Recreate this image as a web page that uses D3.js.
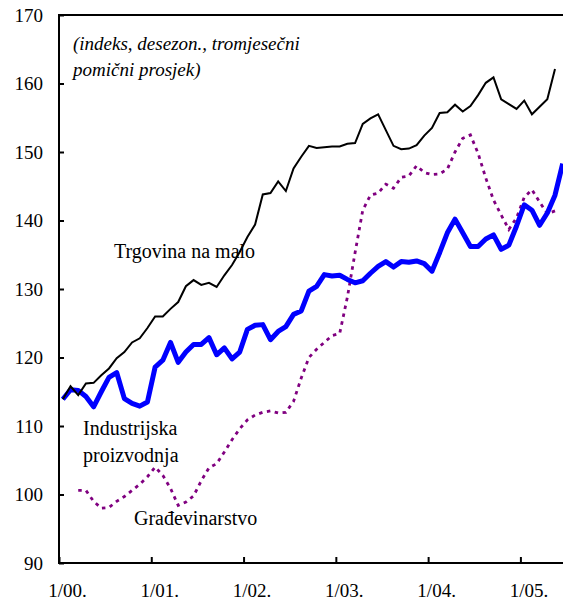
<!DOCTYPE html>
<html>
<head>
<meta charset="utf-8">
<script src="https://cdn.jsdelivr.net/npm/d3@7"></script>
<style>
  body{margin:0;background:#fff;}
  svg{display:block;}
</style>
</head>
<body>
<svg id="chart"></svg>
<script>
// monthly, from 1/2000 on (3-month moving average, seasonally adjusted)
const tickLabels = ["1/00.", "1/01.", "1/02.", "1/03.", "1/04.", "1/05."];
const tickMonths = [0, 12, 24, 36, 48, 60];
const monthCount = 66;

const trgovina = [
  113.9, 115.8, 114.5, 116.2, 116.3, 117.4, 118.4, 119.9, 120.8, 122.2, 122.8, 124.3,
  126.0, 126.0, 127.1, 128.1, 130.4, 131.3, 130.6, 130.9, 130.3, 132.0, 133.5, 135.4,
  137.6, 139.4, 143.8, 144.0, 145.7, 144.3, 147.6, 149.3, 150.9, 150.6, 150.7, 150.8,
  150.8, 151.2, 151.3, 154.1, 154.9, 155.5, 153.2, 150.9, 150.4, 150.5, 151.0, 152.4,
  153.5, 155.7, 155.8, 156.9, 155.9, 156.7, 158.3, 160.1, 160.9, 157.7, 157.0, 156.3,
  157.5, 155.5, 156.6, 157.7, 162.1
];

const industrija = [
  113.9, 115.3, 115.2, 114.3, 112.8, 115.0, 117.1, 117.8, 114.0, 113.3, 112.9, 113.5,
  118.6, 119.6, 122.2, 119.3, 120.8, 121.9, 121.9, 122.9, 120.4, 121.4, 119.8, 120.8,
  124.1, 124.7, 124.8, 122.6, 123.8, 124.5, 126.3, 126.8, 129.7, 130.4, 132.1, 131.9,
  132.0, 131.4, 130.9, 131.2, 132.3, 133.3, 134.0, 133.2, 134.0, 133.9, 134.1, 133.7,
  132.6, 135.3, 138.2, 140.2, 138.2, 136.2, 136.2, 137.3, 137.9, 135.8, 136.4, 139.2,
  142.3, 141.5, 139.3, 141.1, 143.7, 148.3
];

const gradjevinarstvo = [
  null, null, 100.6, 100.6, 99.0, 98.0, 98.1, 99.0, 99.7, 100.6, 101.5, 102.6,
  104.0, 102.8, 100.9, 98.4, 98.9, 99.8, 102.0, 103.9, 104.5, 106.2, 108.0, 109.6,
  110.9, 111.6, 112.0, 112.2, 111.9, 112.0, 113.6, 117.0, 120.0, 121.2, 122.2, 123.2,
  123.5, 128.8, 135.3, 141.5, 143.7, 144.0, 145.3, 144.7, 146.3, 146.5, 148.0, 147.0,
  146.7, 146.8, 147.5, 150.0, 152.0, 152.5, 149.8, 146.2, 143.0, 140.8, 138.7, 140.4,
  143.4, 144.5, 142.7, 141.0, 141.4
];

const serif = 'Liberation Serif';

let w = 563, h = 605;
let svg = d3.select('#chart').attr('width', w).attr('height', h).attr('viewBox', `0 0 ${w} ${h}`);

const plotLeft = 59, plotTop = 15, plotBottom = 563;
const monthWidth = 7.69;

const x = d3.scaleLinear().domain([0, monthCount]).range([plotLeft, plotLeft + monthCount * monthWidth]);
const y = d3.scaleLinear().domain([90, 170]).range([plotBottom, plotTop]);

// frame (right side falls outside the picture)
svg.append('rect')
  .attr('x', x(0)).attr('y', y(170))
  .attr('width', x(monthCount) - x(0)).attr('height', y(90) - y(170))
  .attr('fill', 'none').attr('stroke', '#000').attr('stroke-width', 2);

// axes
const yAxis = svg.append('g')
  .attr('transform', `translate(${plotLeft},0)`)
  .call(d3.axisLeft(y).tickValues(d3.range(90, 171, 10)).tickSize(-5).tickPadding(16));

const xAxis = svg.append('g')
  .attr('transform', `translate(0,${plotBottom})`)
  .call(d3.axisBottom(x).tickValues(tickMonths).tickSize(-6).tickPadding(21)
    .tickFormat((d, i) => tickLabels[i]));

[yAxis, xAxis].forEach(a => {
  a.select('.domain').remove();
  a.selectAll('line').attr('stroke', '#000').attr('stroke-width', 2);
  a.selectAll('text').attr('fill', '#000')
    .style('font-family', serif).style('font-size', '19px');
});
xAxis.selectAll('text').attr('dx', 8);

// lines
function lineFor(values) {
  return d3.line()
    .defined(d => d != null)
    .x((d, i) => x(i + 0.5))
    .y(d => y(d))(values);
}

svg.append('path')
  .attr('d', lineFor(gradjevinarstvo))
  .attr('fill', 'none')
  .attr('stroke', '#800080')
  .attr('stroke-width', 2.8)
  .attr('stroke-dasharray', '3.5,4.5');

svg.append('path')
  .attr('d', lineFor(industrija))
  .attr('fill', 'none')
  .attr('stroke', '#0000ff')
  .attr('stroke-width', 5)
  .attr('stroke-linejoin', 'round');

svg.append('path')
  .attr('d', lineFor(trgovina))
  .attr('fill', 'none')
  .attr('stroke', '#000')
  .attr('stroke-width', 2)
  .attr('stroke-linejoin', 'miter');

// annotations
const notes = [
  {t: '(indeks, desezon., tromjesečni', x: 73, y: 50, italic: true},
  {t: 'pomični prosjek)', x: 73, y: 76, italic: true},
  {t: 'Trgovina na malo', x: 114, y: 258},
  {t: 'Industrijska', x: 83, y: 435},
  {t: 'proizvodnja', x: 83, y: 462},
  {t: 'Građevinarstvo', x: 134, y: 525}
];

svg.append('g').selectAll('text')
  .data(notes)
  .join('text')
  .attr('x', d => d.x)
  .attr('y', d => d.y)
  .attr('fill', '#000')
  .style('font-family', serif)
  .style('font-size', d => d.italic ? '19px' : '20px')
  .style('font-style', d => d.italic ? 'italic' : 'normal')
  .text(d => d.t);
</script>
</body>
</html>
